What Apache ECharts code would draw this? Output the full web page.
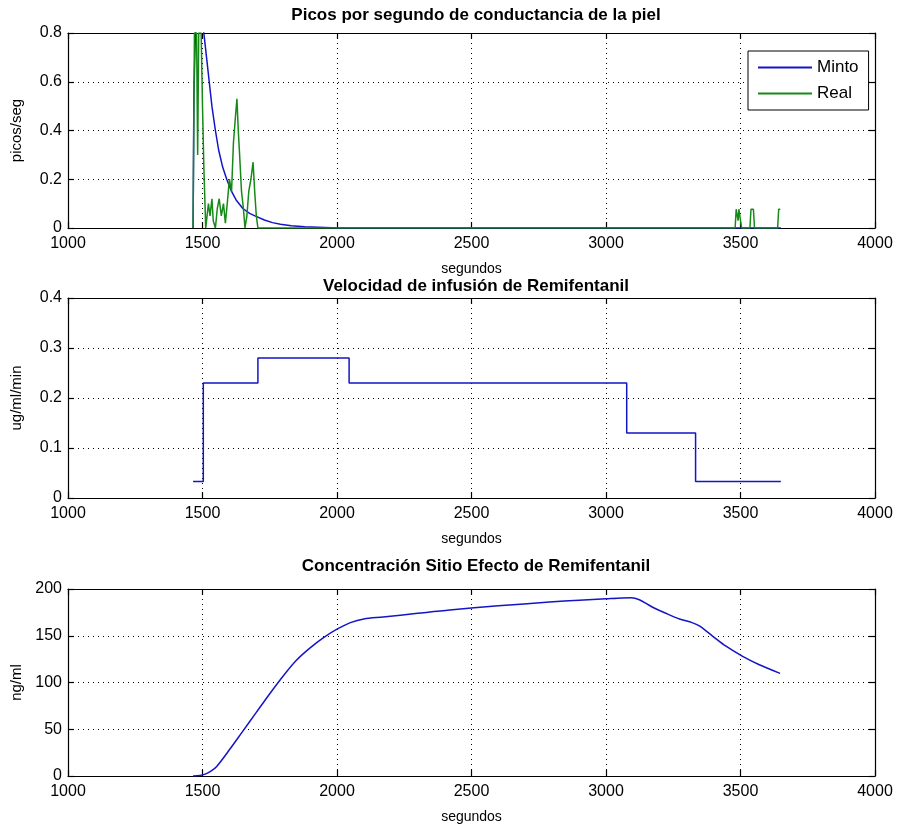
<!DOCTYPE html>
<html>
<head>
<meta charset="utf-8">
<script src="https://cdn.jsdelivr.net/npm/echarts@6/dist/echarts.min.js"></script>
<style>html,body{margin:0;padding:0;background:#fff}#c{width:898px;height:830px}</style>
</head>
<body>
<div id="c"></div>
<script>
// Panel 1: peaks per second
const mintoTime  = [1465,1468,1475,1485,1495,1505,1515,1525,1535,1548,1560,1575,1590,1608,1625,1650,1675,1695,1730,1760,1790,1830,1880,1930,1980,2000,3650];
const mintoValue = [0,0.55,0.86,0.9,0.87,0.8,0.7,0.6,0.5,0.4,0.32,0.25,0.2,0.15,0.115,0.08,0.06,0.05,0.033,0.022,0.015,0.009,0.005,0.003,0.001,0,0];
const realTime  = [1465,1470,1478,1482,1486,1495,1500,1505,1512,1518,1522,1528,1535,1540,1548,1555,1562,1570,1578,1585,1592,1600,1608,1615,1622,1628,1633,1638,1645,1652,1658,1665,1672,1680,1688,1694,1700,1706,3480,3484,3488,3491,3494,3500,3504,3535,3539,3548,3552,3638,3642,3648];
const realValue = [0,0.8,0.8,0.3,0.8,0.8,0.5,0.25,0,0,0.1,0.05,0.12,0.03,0,0.08,0.12,0.05,0.1,0.02,0.1,0.2,0.15,0.35,0.45,0.53,0.4,0.3,0.15,0.08,0,0.05,0.15,0.2,0.27,0.15,0.05,0,0,0.077,0.077,0.03,0.077,0.077,0,0,0.077,0.077,0,0,0.077,0.077];
// Panel 2: infusion rate (step changes)
const infTime  = [1465,1503,1706,2045,3077,3333,3650];
const infValue = [0.033,0.23,0.28,0.23,0.13,0.033,0.033];
// Panel 3: effect-site concentration
const concTime  = [1465,1490,1510,1530,1552,1600,1650,1700,1750,1800,1850,1900,1950,2000,2050,2100,2171,2300,2419,2600,2790,2900,3001,3060,3093,3124,3170,3223,3273,3320,3347,3396,3446,3508,3570,3647];
const concValue = [0,0.5,2,5,10,28,48,68,88,107,124,137,148,157,164,168,170,174,177.6,182,186,188,189.6,190.5,190.6,188.5,181,174,168,164,160.5,149.7,138.8,128,119,109.8];

const xTicks = {min:1000, max:4000, interval:500};
const titles = ['Picos por segundo de conductancia de la piel','Velocidad de infusión de Remifentanil','Concentración Sitio Efecto de Remifentanil'];
const yNames = ['picos/seg','ug/ml/min','ng/ml'];
const yRanges = [{min:0,max:0.8,interval:0.2},{min:0,max:0.4,interval:0.1},{min:0,max:200,interval:50}];
const xName = 'segundos';

const FONT = '"Liberation Sans", Arial, sans-serif';
const grids = [
  {left:68, right:23, top:33, height:195},
  {left:68, right:23, top:298, height:200},
  {left:68, right:23, top:589, height:187}
];
const titleTops = [2, 273, 553];
const zip = (a,b)=>a.map((v,i)=>[v,b[i]]);
const fmt = v => String(Math.round(v*1000)/1000);

const xAxis = [], yAxis = [];
grids.forEach((g,i)=>{
  xAxis.push({
    type:'value', gridIndex:i, position:'bottom', ...xTicks,
    name:xName, nameLocation:'middle', nameGap:34,
    nameTextStyle:{fontFamily:FONT,fontSize:14,color:'#000'},
    axisLine:{show:true,onZero:false,lineStyle:{color:'#000',width:1.2}},
    axisTick:{show:true,inside:true,length:6,lineStyle:{color:'#000',width:1.2}},
    axisLabel:{show:true,fontFamily:FONT,fontSize:16,color:'#000',margin:8,formatter:fmt},
    splitLine:{show:true,lineStyle:{color:'#000',type:[1,4],width:1}}
  });
  xAxis.push({
    type:'value', gridIndex:i, position:'top', ...xTicks,
    axisLine:{show:true,onZero:false,lineStyle:{color:'#000',width:1.2}},
    axisTick:{show:true,inside:true,length:6,lineStyle:{color:'#000',width:1.2}},
    axisLabel:{show:false}, splitLine:{show:false}
  });
  yAxis.push({
    type:'value', gridIndex:i, position:'left', ...yRanges[i],
    name:yNames[i], nameLocation:'middle', nameGap:44,
    nameTextStyle:{fontFamily:FONT,fontSize:15,color:'#000'},
    axisLine:{show:true,onZero:false,lineStyle:{color:'#000',width:1.2}},
    axisTick:{show:true,inside:true,length:6,lineStyle:{color:'#000',width:1.2}},
    axisLabel:{show:true,fontFamily:FONT,fontSize:16,color:'#000',margin:6,formatter:fmt},
    splitLine:{show:true,lineStyle:{color:'#000',type:[1,4],width:1}}
  });
  yAxis.push({
    type:'value', gridIndex:i, position:'right', ...yRanges[i],
    axisLine:{show:true,onZero:false,lineStyle:{color:'#000',width:1.2}},
    axisTick:{show:true,inside:true,length:6,lineStyle:{color:'#000',width:1.2}},
    axisLabel:{show:false}, splitLine:{show:false}
  });
});

const BLUE = '#1515c8', GREEN = '#168a16';
const option = {
  animation:false,
  backgroundColor:'#fff',
  title: titles.map((t,i)=>({text:t, left:471, top:titleTops[i], textAlign:'center',
    textStyle:{fontFamily:FONT,fontSize:17,fontWeight:'bold',color:'#000'}})),
  grid: grids,
  xAxis, yAxis,
  legend:{
    left:748, top:51, orient:'vertical', width:121,
    data:['Minto','Real'],
    backgroundColor:'#fff', borderColor:'#000', borderWidth:1,
    padding:[8,10,8,10], itemGap:9, itemWidth:54, itemHeight:2, icon:'rect',
    textStyle:{fontFamily:FONT,fontSize:17,color:'#000'}
  },
  series:[
    {name:'Minto', type:'line', xAxisIndex:0, yAxisIndex:0, data:zip(mintoTime,mintoValue),
     showSymbol:false, lineStyle:{color:BLUE,width:1.5}, itemStyle:{color:BLUE}},
    {name:'Real', type:'line', xAxisIndex:0, yAxisIndex:0, data:zip(realTime,realValue),
     showSymbol:false, lineStyle:{color:GREEN,width:1.5}, itemStyle:{color:GREEN}},
    {name:'infusion', type:'line', step:'end', xAxisIndex:2, yAxisIndex:2, data:zip(infTime,infValue),
     showSymbol:false, lineStyle:{color:BLUE,width:1.5}, itemStyle:{color:BLUE}},
    {name:'conc', type:'line', smooth:0.3, xAxisIndex:4, yAxisIndex:4, data:zip(concTime,concValue),
     showSymbol:false, lineStyle:{color:BLUE,width:1.5}, itemStyle:{color:BLUE}}
  ]
};
const chart = echarts.init(document.getElementById('c'), null, {renderer:'canvas'});
chart.setOption(option);
</script>
</body>
</html>
